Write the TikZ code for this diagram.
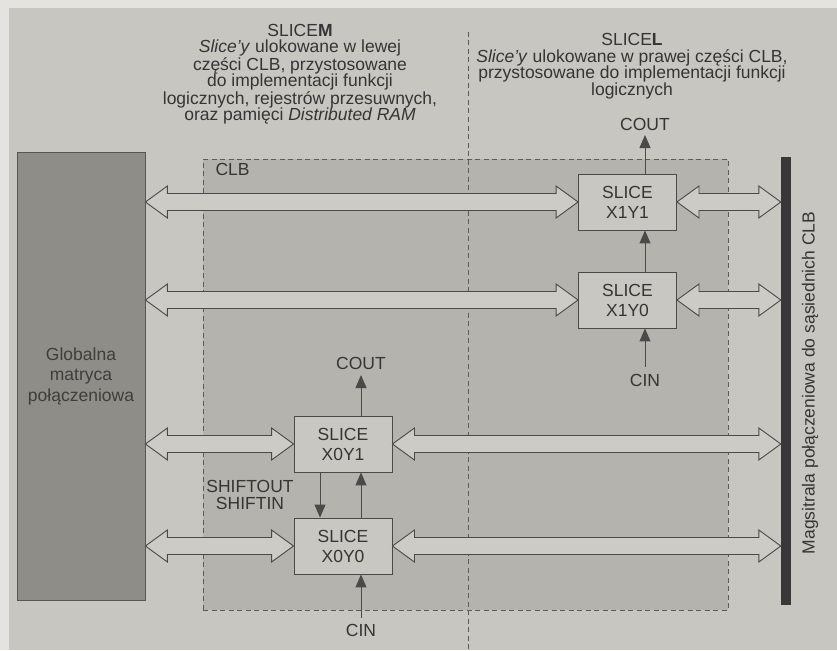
\documentclass[tikz,border=0pt]{standalone}
\usepackage{fontspec}
\setmainfont{Liberation Sans}
\usetikzlibrary{calc,arrows.meta}
\definecolor{paper}{HTML}{C8C6C1}
\definecolor{paperhi}{HTML}{E4E3E0}
\definecolor{clbfill}{HTML}{B5B3AE}
\definecolor{globfill}{HTML}{8F8D88}
\definecolor{slicefill}{HTML}{C9C7C2}
\definecolor{arrowfill}{HTML}{CDCBC6}
\definecolor{edge}{HTML}{4A4A4A}
\definecolor{ink}{HTML}{353535}
\definecolor{busfill}{HTML}{383838}
\definecolor{dashcol}{HTML}{5C5C5C}
\begin{document}
\begin{tikzpicture}[x=1pt,y=-1pt,
  every node/.style={text=ink, font=\fontsize{17.5}{16.5}\selectfont},
  slicebox/.style={draw=edge, fill=slicefill, line width=0.9pt, minimum width=98pt, minimum height=56pt, inner sep=0pt, align=center, font=\fontsize{17.5}{20}\selectfont},
  globbox/.style={draw=edge!80!globfill, fill=globfill, line width=0.8pt, minimum width=128pt, minimum height=448pt, inner sep=0pt, align=center, text=ink!90!globfill, font=\fontsize{17.5}{20.5}\selectfont},
  busbar/.style={fill=busfill, minimum width=10pt, minimum height=448pt, inner sep=0pt},
  clbbox/.style={draw=dashcol, fill=clbfill, dash pattern=on 5pt off 3.5pt, line width=0.9pt, minimum width=525pt, minimum height=451pt, inner sep=0pt},
  divider/.style={draw=dashcol, dash pattern=on 5pt off 3.5pt, line width=0.9pt},
  sig/.style={draw=edge, line width=1pt, -{Triangle[width=11pt,length=13pt]}},
  dbl/.style={draw=edge, fill=arrowfill, line width=0.9pt, line join=miter,
    to path={let \p1=(\tikztostart), \p2=(\tikztotarget) in
      (\x1,\y1) -- (\x1+22pt,\y1+16pt) -- (\x1+22pt,\y1+8.5pt) -- (\x2-22pt,\y1+8.5pt) -- (\x2-22pt,\y1+16pt)
      -- (\x2,\y1) -- (\x2-22pt,\y1-16pt) -- (\x2-22pt,\y1-8.5pt) -- (\x1+22pt,\y1-8.5pt) -- (\x1+22pt,\y1-16pt) -- cycle}}
]
\path[use as bounding box] (0,0) rectangle (837,650);
\fill[paper] (0,0) rectangle (837,650);
\fill[paperhi] (0,0) rectangle (837,8);
\fill[paperhi] (0,0) rectangle (9,650);

% CLB area
\node[clbbox] (clb) at (465.5,384.5) {};
\node[anchor=west] (clblbl) at (212,169) {CLB};

% divider
\coordinate (dtop) at (468,32);
\coordinate (dbot) at (468,650);
\draw[divider] (dtop) -- (dbot);

% titles
\node[align=center] (tm) at (300,74) {SLICE\textbf{M}\\\textit{Slice'y} ulokowane w lewej\\części CLB, przystosowane\\do implementacji funkcji\\logicznych, rejestrów przesuwnych,\\oraz pamięci \textit{Distributed RAM}};
\node[align=center] (tl) at (632,66) {SLICE\textbf{L}\\\textit{Slice'y} ulokowane w prawej części CLB,\\przystosowane do implementacji funkcji\\logicznych};

% global matrix and bus
\node[globbox] (glob) at (81,376) {Globalna\\matryca\\połączeniowa};
\node[busbar] (bus) at (786,381) {};
\node[rotate=90] (buslbl) at (810,383) {Magsitrala połączeniowa do sąsiednich CLB};

% slices
\node[slicebox] (s11) at (627.5,202) {SLICE\\X1Y1};
\node[slicebox] (s10) at (627.5,300) {SLICE\\X1Y0};
\node[slicebox] (s01) at (343,444) {SLICE\\X0Y1};
\node[slicebox] (s00) at (343,546) {SLICE\\X0Y0};

% carry / shift labels
\node (cout1) at (645,124) {COUT};
\node (cin1) at (645,380) {CIN};
\node (cout0) at (361,363) {COUT};
\node (cin0) at (361,630) {CIN};
\node[align=center] (shift) at (250,495) {SHIFTOUT\\SHIFTIN};

\coordinate (cout1t) at (645,135);
\coordinate (cin1b) at (645,367);
\coordinate (cout0t) at (361,375);
\coordinate (cin0b) at (361,618);
\coordinate (shx) at (320,500);

\draw[sig] (s11.north -| cout1t) -- (cout1t);
\draw[sig] (s10.north -| cout1t) -- (s11.south -| cout1t);
\draw[sig] (cin1b) -- (s10.south -| cin1b);
\draw[sig] (s01.north -| cout0t) -- (cout0t);
\draw[sig] (s00.north -| cout0t) -- (s01.south -| cout0t);
\draw[sig] (cin0b) -- (s00.south -| cin0b);
\draw[sig] (s01.south -| shx) -- (s00.north -| shx);

% double arrows
\draw[dbl] (s11.west -| glob.east) to (s11.west);
\draw[dbl] (s10.west -| glob.east) to (s10.west);
\draw[dbl] (s01.west -| glob.east) to (s01.west);
\draw[dbl] (s00.west -| glob.east) to (s00.west);
\draw[dbl] (s11.east) to (s11.east -| bus.west);
\draw[dbl] (s10.east) to (s10.east -| bus.west);
\draw[dbl] (s01.east) to (s01.east -| bus.west);
\draw[dbl] (s00.east) to (s00.east -| bus.west);
\end{tikzpicture}
\end{document}
